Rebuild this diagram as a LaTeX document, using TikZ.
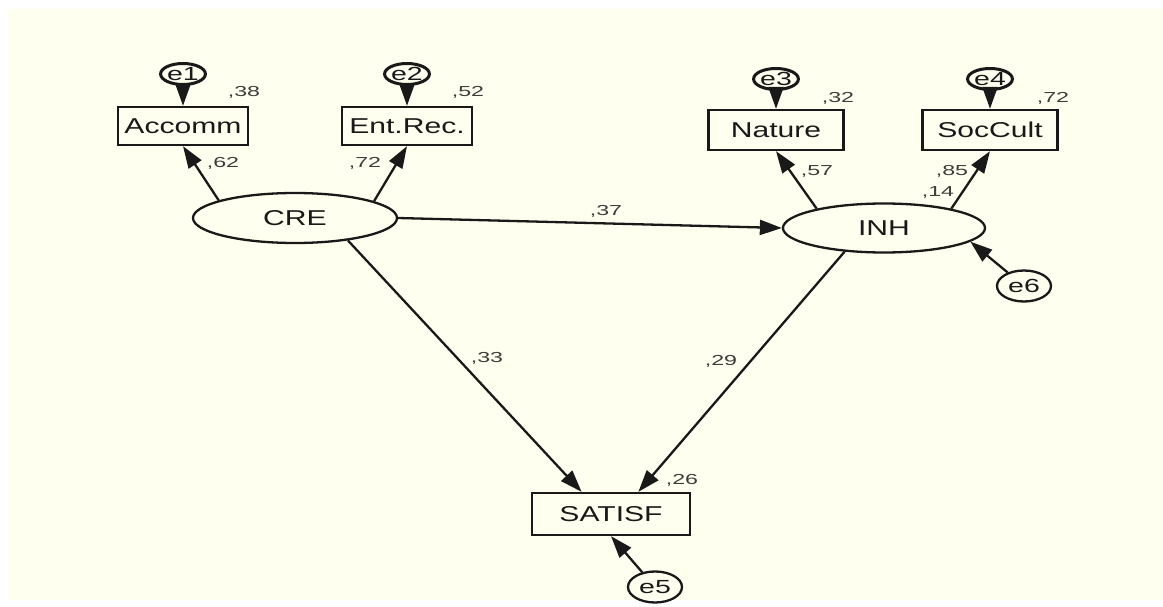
\documentclass[tikz,border=0pt]{standalone}
\usepackage{fontspec}
\setmainfont{Liberation Sans}
\usepackage{graphicx}
\usetikzlibrary{shapes.geometric,arrows.meta}
\definecolor{cream}{RGB}{255,255,240}
\definecolor{ink}{RGB}{25,25,25}
\definecolor{lblink}{RGB}{60,60,60}
\newcommand{\sx}[2][1.4]{\scalebox{#1}[1]{#2}}
\begin{document}
\begin{tikzpicture}[x=1pt,y=-1pt,
  box/.style={draw=ink, line width=2.3pt, minimum width=130pt, minimum height=38pt, inner sep=0pt,
    text=ink, font=\fontsize{21.5}{22}\selectfont},
  lat/.style={ellipse, draw=ink, line width=2.3pt, minimum width=204pt, minimum height=50pt, inner sep=0pt,
    text=ink, font=\fontsize{21.5}{22}\selectfont},
  errtop/.style={ellipse, draw=ink, line width=3pt, minimum width=34pt, minimum height=21pt, inner sep=0pt,
    text=ink, font=\fontsize{19}{19}\selectfont},
  errbot/.style={ellipse, draw=ink, line width=2.3pt, minimum width=54pt, minimum height=31pt, inner sep=0pt,
    text=ink, font=\fontsize{19}{19}\selectfont},
  arr/.style={draw=ink, line width=2.3pt, -{Triangle[length=22pt,width=15pt]}},
  lbl/.style={text=lblink, inner sep=0pt, font=\fontsize{14.5}{15}\selectfont}]
\useasboundingbox (0,0) rectangle (1163,607);
\fill[white] (0,0) rectangle (1163,607);
\fill[cream] (8,9) rectangle (1163,600);

% observed variables
\node[box] (Accomm) at (183,126) {\sx{Accomm}};
\node[box] (EntRec) at (407,126) {\sx{Ent.Rec.}};
\node[box, minimum width=135pt, minimum height=40pt] (Nature) at (776,130) {\sx{Nature}};
\node[box, minimum width=135pt, minimum height=40pt] (SocCult) at (990,130) {\sx{SocCult}};
\node[box, minimum width=158pt, minimum height=42pt] (SATISF) at (611,514) {\sx{SATISF}};

% latent variables
\node[lat] (CRE) at (295,218) {\sx{CRE}};
\node[lat, minimum width=202pt, minimum height=49pt] (INH) at (884,228) {\sx{INH}};

% error terms
\node[errtop] (e1) at (183,74) {\sx[1.5]{e1}};
\node[errtop] (e2) at (407,74) {\sx[1.5]{e2}};
\node[errtop] (e3) at (776,79) {\sx[1.5]{e3}};
\node[errtop] (e4) at (990,79) {\sx[1.5]{e4}};
\node[errbot] (e5) at (655,587) {\sx[1.5]{e5}};
\node[errbot] (e6) at (1024,286) {\sx[1.5]{e6}};

% connectors
\draw[arr] (e1) -- (Accomm);
\draw[arr] (e2) -- (EntRec);
\draw[arr] (e3) -- (Nature);
\draw[arr] (e4) -- (SocCult);
\draw[arr] (CRE.167) -- (Accomm.south);
\draw[arr] (CRE.12) -- (EntRec.south);
\draw[arr] (INH.164) -- (Nature.south);
\draw[arr] (INH.16) -- (SocCult.south);
\draw[arr] (CRE.east) -- (INH.west);
\draw[arr] (CRE.-23) -- (SATISF.143);
\draw[arr] (INH.211) -- (SATISF.39);
\draw[arr] (e6) -- (INH.351);
\draw[arr] (e5) -- (SATISF.south);

% coefficients
\node[lbl] (l38) at (244,92) {\sx[1.6]{,38}};
\node[lbl] (l52) at (468,92) {\sx[1.6]{,52}};
\node[lbl] (l62) at (223,163) {\sx[1.6]{,62}};
\node[lbl] (l72a) at (365,163) {\sx[1.6]{,72}};
\node[lbl] (l32) at (838,98) {\sx[1.6]{,32}};
\node[lbl] (l72b) at (1053,98) {\sx[1.6]{,72}};
\node[lbl] (l57) at (817,171) {\sx[1.6]{,57}};
\node[lbl] (l85) at (952,171) {\sx[1.6]{,85}};
\node[lbl] (l14) at (938,192) {\sx[1.6]{,14}};
\node[lbl] (l37) at (606,211) {\sx[1.6]{,37}};
\node[lbl] (l33) at (487,358) {\sx[1.6]{,33}};
\node[lbl] (l29) at (721,361) {\sx[1.6]{,29}};
\node[lbl] (l26) at (682,480) {\sx[1.6]{,26}};
\end{tikzpicture}
\end{document}
